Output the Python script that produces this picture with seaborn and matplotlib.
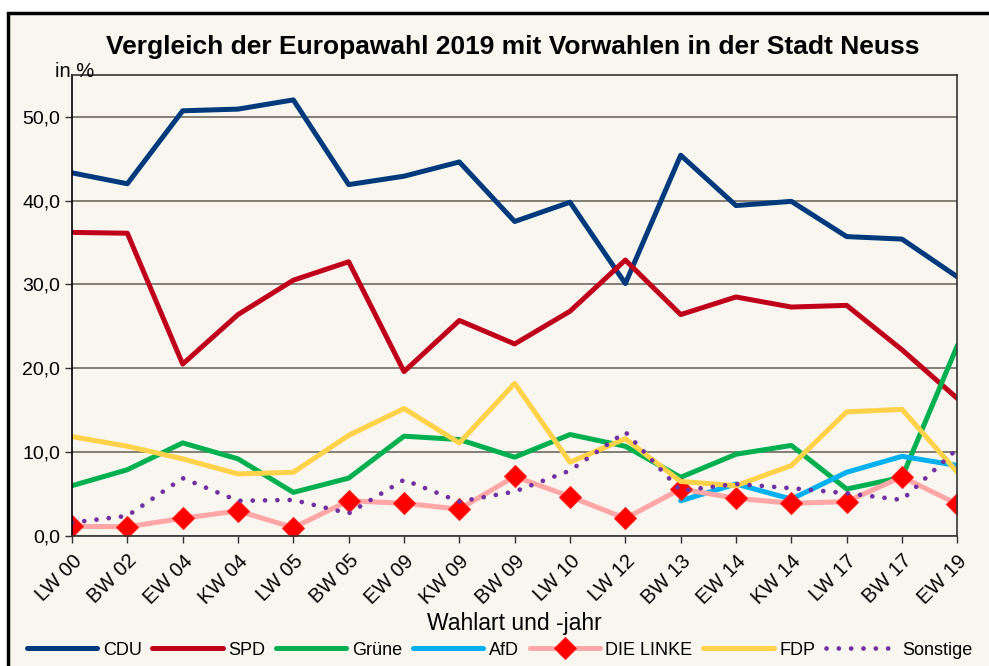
import pandas as pd
import numpy as np
import matplotlib.pyplot as plt
import matplotlib.patches as mpatches
import seaborn as sns

sns.set_theme(style="white")
plt.rcParams['font.family'] = ['Liberation Sans', 'DejaVu Sans']
plt.rcParams['text.color'] = 'black'
plt.rcParams['xtick.color'] = 'black'
plt.rcParams['ytick.color'] = 'black'
plt.rcParams['axes.labelcolor'] = 'black'

# Wahlen (Wahlart + Jahr)
wahlen = ["LW 00", "BW 02", "EW 04", "KW 04", "LW 05", "BW 05", "EW 09", "KW 09", "BW 09",
          "LW 10", "LW 12", "BW 13", "EW 14", "KW 14", "LW 17", "BW 17", "EW 19"]

cdu = [43.3, 42.0, 50.7, 50.9, 52.0, 41.9, 42.9, 44.6, 37.5, 39.8, 30.1, 45.4, 39.4, 39.9, 35.7, 35.4, 30.9]
spd = [36.2, 36.1, 20.5, 26.4, 30.5, 32.7, 19.6, 25.7, 22.9, 26.8, 32.9, 26.4, 28.5, 27.3, 27.5, 22.2, 16.4]
gruene = [6.0, 7.9, 11.1, 9.2, 5.2, 6.9, 11.9, 11.5, 9.4, 12.1, 10.7, 7.0, 9.75, 10.8, 5.6, 7.0, 22.7]
afd = [np.nan] * 11 + [4.2, 6.2, 4.4, 7.6, 9.5, 8.4]
linke = [1.15, 1.1, 2.1, 3.0, 1.0, 4.2, 3.9, 3.2, 7.1, 4.7, 2.1, 5.6, 4.5, 3.9, 4.1, 7.05, 3.8]
fdp = [11.85, 10.7, 9.2, 7.4, 7.6, 12.0, 15.2, 11.1, 18.2, 8.8, 11.6, 6.5, 6.0, 8.4, 14.8, 15.1, 7.6]
sonstige = [1.6, 2.4, 6.9, 4.2, 4.3, 2.7, 6.7, 4.1, 5.3, 7.8, 12.4, 5.4, 6.2, 5.7, 5.1, 4.3, 10.4]

df = pd.DataFrame({"Wahl": wahlen, "CDU": cdu, "SPD": spd, "Grüne": gruene, "AfD": afd,
                   "DIE LINKE": linke, "FDP": fdp, "Sonstige": sonstige})

bg = "#F8F6EE"
fig = plt.figure(figsize=(9.89, 6.66), dpi=100)
fig.patch.set_facecolor("white")
frame = mpatches.Rectangle((8 / 989, -0.1), 1.2, 1.1 - 13 / 666, transform=fig.transFigure,
                           facecolor=bg, edgecolor="black", lw=2.5, zorder=-10)
fig.patches.append(frame)

ax = fig.add_axes([0.0728, 0.1952, 0.8952, 0.6926])
ax.set_facecolor(bg)

lw = 3.6
sns.lineplot(data=df, x="Wahl", y="CDU", color="#003A7D", lw=lw, sort=False, ax=ax, label="CDU")
sns.lineplot(data=df, x="Wahl", y="SPD", color="#C0001A", lw=lw, sort=False, ax=ax, label="SPD")
sns.lineplot(data=df, x="Wahl", y="Grüne", color="#00B050", lw=lw, sort=False, ax=ax, label="Grüne")
sns.lineplot(data=df, x="Wahl", y="AfD", color="#00B0F0", lw=lw, sort=False, ax=ax, label="AfD")
sns.lineplot(data=df, x="Wahl", y="DIE LINKE", color="#FFA6A6", lw=lw, sort=False, ax=ax,
             marker="D", markersize=11.5, markerfacecolor="#FF0000", markeredgecolor="#FF2020",
             label="DIE LINKE")
sns.lineplot(data=df, x="Wahl", y="FDP", color="#FFD24A", lw=lw, sort=False, ax=ax, label="FDP")
sns.lineplot(data=df, x="Wahl", y="Sonstige", color="#7030A0", lw=3.4, sort=False, ax=ax,
             linestyle=(0, (0.01, 2.6)), dash_capstyle="round", label="Sonstige")

ax.set_ylim(0, 55)
ax.set_xlim(0, len(wahlen) - 1)
ax.set_yticks([0, 10, 20, 30, 40, 50])
ax.set_yticklabels([f"{v:.1f}".replace(".", ",") for v in [0, 10, 20, 30, 40, 50]], fontsize=14)
ax.yaxis.grid(True, color="#6E6A60", lw=1.2)
ax.set_axisbelow(True)
for s in ax.spines.values():
    s.set_color("#333333")
    s.set_linewidth(1.2)
ax.spines["left"].set_color("black")
ax.tick_params(axis="both", direction="out", length=5, width=1, color="#333333", left=True, bottom=True)
ax.tick_params(axis="x", pad=6)
plt.setp(ax.get_xticklabels(), rotation=45, ha="right", rotation_mode="anchor", fontsize=14.5)
ax.set_xlabel("Wahlart und -jahr", fontsize=16.5, labelpad=3)
ax.set_ylabel("")

fig.text(0.518, 0.929, "Vergleich der Europawahl 2019 mit Vorwahlen in der Stadt Neuss",
         ha="center", va="center", fontsize=19, fontweight="bold")
fig.text(0.056, 0.893, "in %", ha="left", va="center", fontsize=14.5)

ax.legend(loc="center", bbox_to_anchor=(0.505, 0.024), bbox_transform=fig.transFigure, ncol=7,
          frameon=False, fontsize=13, handlelength=3.9, columnspacing=0.6, handletextpad=0.3)

fig.savefig("out.png", dpi=100, facecolor="white")
